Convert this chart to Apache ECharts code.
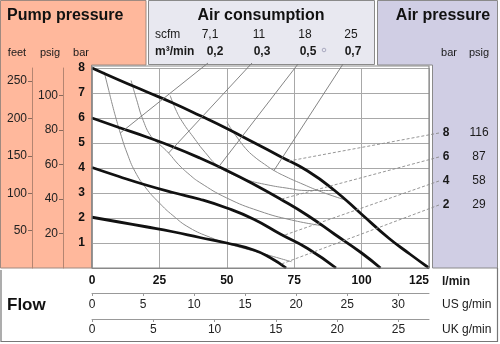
<!DOCTYPE html>
<html><head><meta charset="utf-8">
<script src="https://cdn.jsdelivr.net/npm/echarts@6/dist/echarts.min.js"></script>
<style>html,body{margin:0;padding:0;background:#fff}#c{width:500px;height:344px}</style>
</head><body><div id="c"></div>
<script>
// Diaphragm pump performance: outlet pressure (bar) vs flow (l/min)
// for four air supply pressures, with iso air-consumption curves.

const flowTicks = [0, 25, 50, 75, 100, 125];
const usTicks = [0, 5, 10, 15, 20, 25, 30];
const ukTicks = [0, 5, 10, 15, 20, 25];
const psigTicks = [20, 40, 60, 80, 100];
const feetTicks = [50, 100, 150, 200, 250];

const airBar = ['8', '6', '4', '2'];
const airPsig = ['116', '87', '58', '29'];
const scfm = ['7,1', '11', '18', '25'];
const m3min = ['0,2', '0,3', '0,5', '0,7'];

// pump curves [flow l/min, pressure bar] at 8, 6, 4, 2 bar air supply
const pump8 = [[0,8],[10,7.52],[20,7.06],[30,6.6],[40,6.1],[50,5.58],[60,5.02],[70,4.45],[80,3.88],[90,3.1],[100,2.15],[110,1.2],[118,0.55],[125,0]];
const pump6 = [[0,6],[10,5.62],[20,5.25],[30,4.85],[40,4.4],[50,3.9],[60,3.35],[70,2.75],[80,2.1],[90,1.35],[100,0.6],[107,0]];
const pump4 = [[0,4.02],[10,3.66],[20,3.32],[30,3.02],[40,2.75],[50,2.4],[60,1.95],[70,1.35],[80,0.78],[90.5,0]];
const pump2 = [[0,2.03],[10,1.84],[20,1.65],[30,1.45],[40,1.22],[50,1.0],[60,0.72],[66,0.42],[72,0]];

// air consumption curves, 0.2 / 0.3 / 0.5 / 0.7 m3/min
const air02 = [[4.5,7.85],[6,7.2],[7.5,6.55],[9,5.95],[10.5,5.4],[13,4.6],[16,3.85],[20,3.2],[25,2.6],[30,2.1],[36,1.62],[44,1.22],[52,0.92],[62,0.62],[74,0.25]];
const air03 = [[14.5,7.5],[16.5,6.75],[19,5.9],[22,5.25],[25,4.95],[28.4,4.6],[32,4.15],[36,3.75],[40,3.42],[50,2.8],[62,2.28],[74,1.92],[86,1.68]];
const air05 = [[29,6.9],[31,6.35],[33.5,5.85],[37.5,5.25],[42,4.62],[47,4.05],[52,3.75],[57.6,3.52],[64,3.35],[72,3.2],[80,3.1],[89.5,3.1]];
const air07 = [[50,5.85],[52,5.5],[54,5.2],[57,4.78],[60,4.47],[64,4.15],[67.5,3.9],[72,3.65],[77.4,3.39],[85,3.05],[94,2.72]];

// where the label leaders touch the curves
const airLeaderTargets = [[10.5,5.4],[28.4,4.6],[47,4.05],[67.5,3.9]];
const pressureLeaderTargets = [[73,4.28],[70,2.75],[71,1.3],[70,0.15]];

const L_PER_USGAL = 3.78541, L_PER_UKGAL = 4.54609;
const PSI_PER_BAR = 14.5038, FT_PER_BAR = 33.455;
const FLOW_MAX = 125, BAR_MAX = 8;

const FONT = '"Liberation Sans", Arial, sans-serif';
const SALMON = '#ffb89c', LAVENDER = '#d0cee4', PALE = '#e8e8f0';

const chart = echarts.init(document.getElementById('c'), null, {renderer: 'canvas'});

const thick = (data) => ({type:'line', data, smooth:true, symbol:'none', z:4,
  lineStyle:{color:'#111', width:2.8}, silent:true});
const thin = (data) => ({type:'line', data, smooth:true, symbol:'none', z:3,
  lineStyle:{color:'#8c8c8c', width:1}, silent:true});

const flowLabel = {fontFamily: FONT, fontSize: 12, color: '#222'};

chart.setOption({
  animation: false,
  grid: {left: 92, top: 68, width: 337, height: 200},
  xAxis: [
    {type:'value', min:0, max:FLOW_MAX, interval:25,
     axisLine:{show:true, lineStyle:{color:'#888'}}, axisTick:{show:false},
     axisLabel:{...flowLabel, fontWeight:'bold', color:'#111', margin:7, customValues: flowTicks, alignMaxLabel:'right'},
     splitLine:{show:true, lineStyle:{color:'#a8a8a8'}}},
    {type:'value', min:0, max:FLOW_MAX / L_PER_USGAL, position:'bottom', offset:25,
     axisLine:{show:true, onZero:false, lineStyle:{color:'#999'}},
     axisTick:{show:true, length:3, lineStyle:{color:'#999'}, customValues: usTicks},
     axisLabel:{...flowLabel, margin:6, customValues: usTicks}, splitLine:{show:false}},
    {type:'value', min:0, max:FLOW_MAX / L_PER_UKGAL, position:'bottom', offset:51,
     axisLine:{show:true, onZero:false, lineStyle:{color:'#999'}},
     axisTick:{show:true, length:3, lineStyle:{color:'#999'}, customValues: ukTicks},
     axisLabel:{...flowLabel, margin:5, customValues: ukTicks}, splitLine:{show:false}}
  ],
  yAxis: [
    {type:'value', min:0, max:BAR_MAX, interval:1,
     axisLine:{show:false}, axisTick:{show:false},
     axisLabel:{fontFamily:FONT, fontSize:12, fontWeight:'bold', color:'#111', margin:7, showMinLabel:false},
     splitLine:{show:true, lineStyle:{color:'#a8a8a8'}}},
    {type:'value', min:0, max:BAR_MAX * PSI_PER_BAR, position:'left', offset:29,
     axisLine:{show:true, onZero:false, lineStyle:{color:'#b48571'}},
     axisTick:{show:true, length:4, lineStyle:{color:'#8a6a5c'}, customValues: psigTicks},
     axisLabel:{fontFamily:FONT, fontSize:12, color:'#222', margin:5, customValues: psigTicks},
     splitLine:{show:false}},
    {type:'value', min:0, max:BAR_MAX * FT_PER_BAR, position:'left', offset:60,
     axisLine:{show:true, onZero:false, lineStyle:{color:'#b48571'}},
     axisTick:{show:true, length:4, lineStyle:{color:'#8a6a5c'}, customValues: feetTicks},
     axisLabel:{fontFamily:FONT, fontSize:12, color:'#222', margin:5, customValues: feetTicks},
     splitLine:{show:false}}
  ],
  series: [
    thin(air02), thin(air03), thin(air05), thin(air07),
    thick(pump8), thick(pump6), thick(pump4), thick(pump2)
  ]
});

// ---- panels, headings and leaders ----
const txt = (text, x, y, opts = {}) => ({
  type:'text', silent:true, z: 20,
  style: Object.assign({text, x, y, font: `${opts.bold ? 'bold ' : ''}${opts.size || 12}px ${FONT}`,
    fill: opts.fill || '#1a1a1a', textAlign: opts.align || 'center', textVerticalAlign: 'middle'})
});

const g = [];
// salmon pump-pressure panel (L shape)
g.push({type:'polygon', silent:true, z:-10, shape:{points:[[0.5,0.5],[146,0.5],[146,65],[91.5,65],[91.5,268],[0.5,268]]},
  style:{fill:SALMON, stroke:'#a08a80', lineWidth:1}});
// air consumption panel
g.push({type:'rect', silent:true, z:-10, shape:{x:148.5, y:0.5, width:226, height:64},
  style:{fill:PALE, stroke:'#8a8a8a', lineWidth:1}});
// air pressure panel (L shape)
g.push({type:'polygon', silent:true, z:-10, shape:{points:[[377.5,0.5],[497.5,0.5],[497.5,268],[432.5,268],[432.5,65],[377.5,65]]},
  style:{fill:LAVENDER, stroke:'#8a8a8a', lineWidth:1}});
// plot frame
g.push({type:'rect', silent:true, z:5, shape:{x:92, y:66, width:337, height:202},
  style:{fill:null, stroke:'#8a8a8a', lineWidth:1.2}});
// flow footer frame
g.push({type:'polyline', silent:true, z:-9, shape:{points:[[1,270],[1,341.5],[497.5,341.5],[497.5,268]]},
  style:{stroke:'#777', lineWidth:1.2, fill:null}});

g.push(txt('Pump pressure', 7, 16, {bold:true, size:16, align:'left', fill:'#111'}));
g.push(txt('Air consumption', 261, 16, {bold:true, size:16, fill:'#111'}));
g.push(txt('Air pressure', 443, 16, {bold:true, size:16, fill:'#111'}));

g.push(txt('feet', 17, 53, {size:11}));
g.push(txt('psig', 50, 53, {size:11}));
g.push(txt('bar', 81, 53, {size:11}));

g.push(txt('scfm', 155, 35, {align:'left'}));
g.push({type:'text', silent:true, z:20, style:{text:'m³/min', x:155, y:52, font:`bold 12px ${FONT}`, fill:'#1a1a1a', textVerticalAlign:'middle'}});
const consX = [210, 259, 305, 351];
const consX2 = [215, 262, 308, 353];
scfm.forEach((s, i) => g.push(txt(s, consX[i], 35)));
m3min.forEach((s, i) => g.push(txt(s, consX2[i], 52, {bold:true})));
g.push({type:'circle', silent:true, z:20, shape:{cx:324, cy:50, r:1.8}, style:{fill:null, stroke:'#9a9ab4', lineWidth:0.8}});

g.push(txt('bar', 449, 53, {size:11}));
g.push(txt('psig', 479, 53, {size:11}));
const rightY = [133, 157, 181, 205];
airBar.forEach((s, i) => g.push(txt(s, 446, rightY[i], {bold:true})));
airPsig.forEach((s, i) => g.push(txt(s, 479, rightY[i])));

g.push(txt('Flow', 7, 305, {bold:true, size:17, align:'left', fill:'#111'}));
g.push(txt('l/min', 442, 282, {bold:true, size:12, align:'left'}));
g.push(txt('US g/min', 442, 305, {size:12, align:'left'}));
g.push(txt('UK g/min', 442, 330, {size:12, align:'left'}));

// leaders from the consumption labels down to their curves
const topAnchors = [[208,63],[252,63],[298,64],[343,64]];
airLeaderTargets.forEach((t, i) => {
  const p = chart.convertToPixel({seriesIndex:0}, t);
  g.push({type:'line', silent:true, z:6, shape:{x1:topAnchors[i][0], y1:topAnchors[i][1], x2:p[0], y2:p[1]},
    style:{stroke:'#777', lineWidth:0.9}});
});
// dashed leaders from the air-pressure labels to the pump curves
pressureLeaderTargets.forEach((t, i) => {
  const p = chart.convertToPixel({seriesIndex:0}, t);
  g.push({type:'line', silent:true, z:6, shape:{x1:439, y1:rightY[i], x2:p[0], y2:p[1]},
    style:{stroke:'#8a8a8a', lineWidth:0.9, lineDash:[3,2]}});
});

chart.setOption({graphic: g});
</script></body></html>
